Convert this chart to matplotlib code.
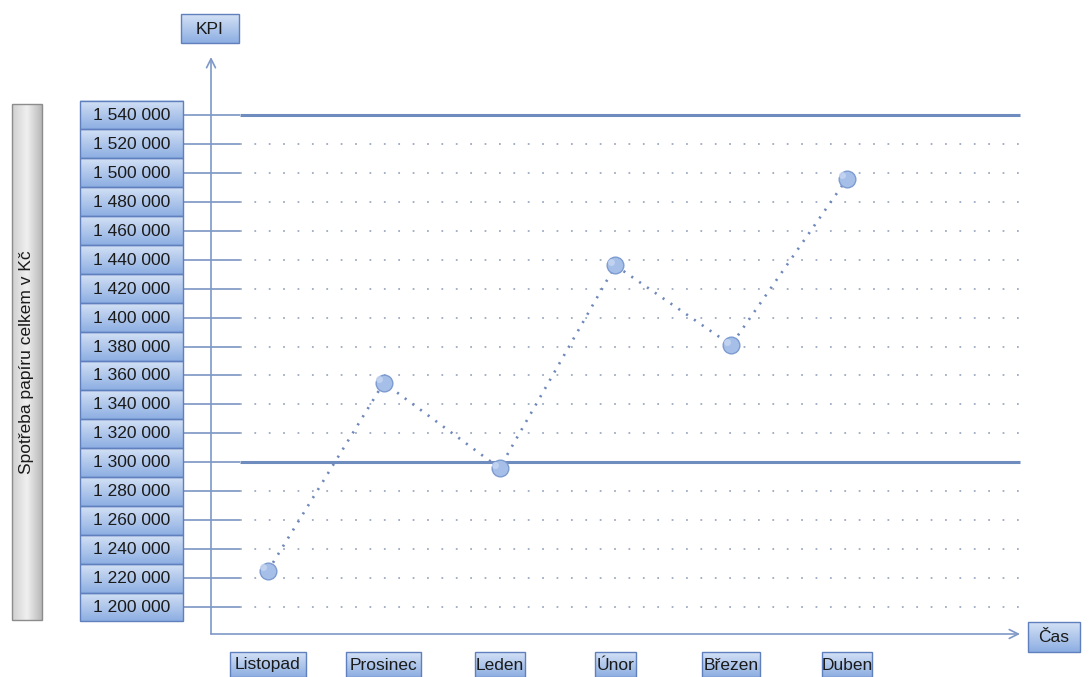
import numpy as np
import matplotlib
matplotlib.use("Agg")
import matplotlib.pyplot as plt
from matplotlib.patches import Rectangle

plt.rcParams["font.family"] = ["Liberation Sans", "DejaVu Sans"]

months = ["Listopad", "Prosinec", "Leden", "Únor", "Březen", "Duben"]
values = [1225000, 1355000, 1296000, 1436000, 1381000, 1496000]
y_ticks = list(range(1200000, 1540001, 20000))
limit_lines = [1540000, 1300000]
y_title = "Spotřeba papíru celkem v Kč"
x_title = "Čas"
top_title = "KPI"

W, H = 1090, 677
fig = plt.figure(figsize=(W / 100, H / 100), dpi=100)
fig.patch.set_facecolor("white")

# main axes: pixel box 211..1020 x 57..634
ax = fig.add_axes([211 / W, 1 - 634 / H, (1020 - 211) / W, (634 - 57) / H])
ax.set_xlim(-0.492, 6.494)
ax.set_ylim(1181340, 1580083)
ax.axis("off")

ytr = ax.get_yaxis_transform()
GRID_X0 = (240 - 211) / (1020 - 211)
TICK_X0 = (183 - 211) / (1020 - 211)

for v in y_ticks:
    ax.plot([TICK_X0, GRID_X0], [v, v], transform=ytr, color="#6f8cbf", lw=1.1,
            clip_on=False, solid_capstyle="butt", zorder=2)
    if v not in limit_lines:
        ax.plot([GRID_X0, 1], [v, v], transform=ytr, color="#a3afc4", lw=1.4,
                dashes=(0.9, 6.5), clip_on=False, zorder=1)
for v in limit_lines:
    ax.plot([GRID_X0, 1], [v, v], transform=ytr, color="#6f8cbf", lw=2.2,
            clip_on=False, solid_capstyle="butt", zorder=2)

# axis arrows
ax.annotate("", xy=(0, 1), xytext=(0, 0), xycoords="axes fraction",
            arrowprops=dict(arrowstyle="->", color="#7f98c6", lw=1.2,
                            shrinkA=0, shrinkB=0, mutation_scale=16))
ax.annotate("", xy=(1, 0), xytext=(0, 0), xycoords="axes fraction",
            arrowprops=dict(arrowstyle="->", color="#7f98c6", lw=1.2,
                            shrinkA=0, shrinkB=0, mutation_scale=16))

x = np.arange(len(months))
ax.plot(x, values, color="#6f88bb", lw=1.9, dashes=(0.8, 2.8), zorder=3)
ax.plot(x, values, "o", ms=12, mfc="#a6bfe8", mec="#7d9bd0", mew=1.0, zorder=4)
ax.plot(x - 0.04, np.array(values) + 2300, "o", ms=5, mfc="#c9d8f3", mec="none",
        alpha=0.8, zorder=5)

# overlay in pixel coordinates for the label boxes
ov = fig.add_axes([0, 0, 1, 1], zorder=10)
ov.set_xlim(0, W)
ov.set_ylim(H, 0)
ov.axis("off")
ov.patch.set_alpha(0)

fig.canvas.draw()


def to_px(trans, pt):
    dx, dy = trans.transform(pt)
    return dx, H - dy


def gbox(x0, y0, x1, y1, c0, c1, edge, horizontal=False, mid=None):
    c0 = np.array(matplotlib.colors.to_rgb(c0))
    c1 = np.array(matplotlib.colors.to_rgb(c1))
    t = np.linspace(0, 1, 64)
    if mid is not None:
        cm = np.array(matplotlib.colors.to_rgb(mid))
        grad = np.where(t[:, None] < 0.5,
                        c0 + (cm - c0) * (t[:, None] / 0.5),
                        cm + (c1 - cm) * ((t[:, None] - 0.5) / 0.5))
    else:
        grad = c0 + (c1 - c0) * t[:, None]
    img = grad[None, :, :] if horizontal else grad[:, None, :]
    ov.imshow(img, extent=(x0, x1, y1, y0), aspect="auto", interpolation="bilinear",
              zorder=1)
    ov.add_patch(Rectangle((x0, y0), x1 - x0, y1 - y0, fill=False, ec=edge, lw=1.0,
                           zorder=2))


BLUE_TOP, BLUE_BOT, BLUE_EDGE = "#d3e1f5", "#8daee2", "#5f80bd"
FS = 12.5

# y tick label boxes
for v in y_ticks:
    lx, top = to_px(ytr, (-0.162, v + 10000))
    rx, bot = to_px(ytr, (TICK_X0, v - 10000))
    gbox(lx, top, rx, bot, BLUE_TOP, BLUE_BOT, BLUE_EDGE)
    ov.text((lx + rx) / 2, (top + bot) / 2 + 0.5, f"{v:,}".replace(",", " "),
            ha="center", va="center", fontsize=FS, color="#1a1a1a", zorder=3)

# month label boxes
for i, m in enumerate(months):
    cx, _ = to_px(ax.transData, (i, 0))
    tw = len(m) * 8.4 + 8
    gbox(cx - tw / 2, 652, cx + tw / 2, 677, BLUE_TOP, BLUE_BOT, BLUE_EDGE)
    ov.text(cx, 665, m, ha="center", va="center", fontsize=FS, color="#1a1a1a",
            zorder=3)

# KPI and Čas boxes
kx, _ = to_px(ax.transAxes, (0, 1))
gbox(kx - 30, 14, kx + 28, 43, BLUE_TOP, BLUE_BOT, BLUE_EDGE)
ov.text(kx - 1, 29, top_title, ha="center", va="center", fontsize=FS, color="#1a1a1a",
        zorder=3)
cx, cy = to_px(ax.transAxes, (1, 0))
gbox(cx + 8, cy - 12, cx + 60, cy + 18, BLUE_TOP, BLUE_BOT, BLUE_EDGE)
ov.text(cx + 34, cy + 3, x_title, ha="center", va="center", fontsize=FS,
        color="#1a1a1a", zorder=3)

# vertical grey title box
gbox(12, 104, 42, 620, "#cfcfcf", "#b8b8b8", "#8c8c8c", horizontal=True, mid="#f0f0f0")
ov.text(27, 362, y_title, rotation=90, ha="center", va="center", fontsize=FS,
        color="#1a1a1a", zorder=3)

fig.savefig("out.png", dpi=100, facecolor="white")
